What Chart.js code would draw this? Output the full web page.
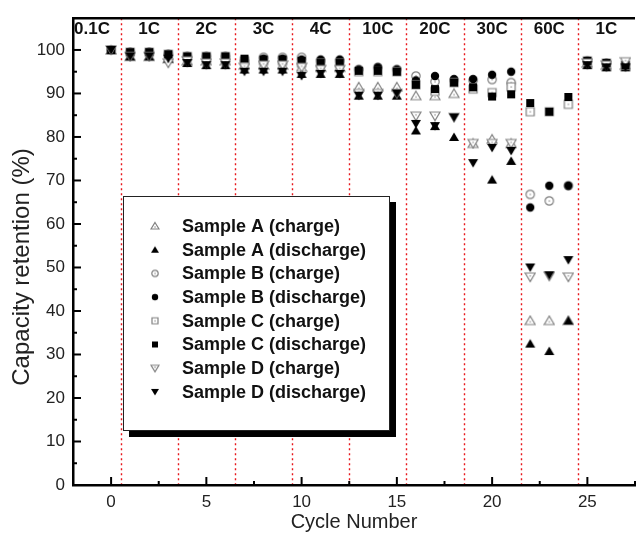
<!DOCTYPE html>
<html>
<head>
<meta charset="utf-8">
<script src="https://cdn.jsdelivr.net/npm/chart.js@4.4.1/dist/chart.umd.min.js"></script>
<style>
  html, body { margin: 0; padding: 0; background: #fff; }
</style>
</head>
<body>
<canvas id="capacityChart" width="641" height="534"></canvas>
<script>
// ---- data ----
const cycles = [0, 1, 2, 3, 4, 5, 6, 7, 8, 9, 10, 11, 12, 13, 14, 15, 16, 17, 18, 19, 20, 21, 22, 23, 24, 25, 26, 27];

const sampleACharge    = [100, 98.5, 98.5, 98, 97.5, 97.5, 97.5, 96.5, 96.5, 96.5, 96, 96, 96, 91.5, 91.5, 91.5, 89.5, 89.5, 90, 78.5, 79.5, 78.5, 37.8, 37.8, 37.8, 97, 96.5, 96.5];
const sampleADischarge = [100, 98.5, 98.5, 98, 97, 96.5, 96.5, 95.5, 95.5, 95.5, 94.5, 94.5, 94.5, 89.5, 89.5, 89.5, 81.5, 82.5, 80, null, 70.2, 74.5, 32.5, 30.8, 37.8, 96.5, 96, 96];
const sampleBCharge    = [100, 99.5, 99.5, 99, 98.5, 98.5, 98.5, 97.5, 98.3, 98.3, 98.3, 97.5, 97.5, 95.5, 96, 95.5, 94, 92.7, 93, 93, 93.2, 92.5, 66.8, 65.3, 68.8, 97.5, 97, 96.5];
const sampleBDischarge = [100, 99.5, 99.5, 99, 98.5, 98.5, 98.5, 97.5, 98, 98, 97.8, 97.8, 97.8, 95.5, 96, 95.5, 93, 94, 93.3, 93.3, 94.3, 95, 63.8, 68.8, 68.8, 97.5, 97, 96.5];
const sampleCCharge    = [100, 99.5, 99.5, 99, 98.5, 98.5, 98.5, 97.5, 97.5, 97.5, 97, 97, 97, 95, 95, 95, 92, 90.5, 92.5, 91, 90.2, 91.5, 85.8, 85.8, 87.5, 97.5, 97, 96.5];
const sampleCDischarge = [100, 99.5, 99.5, 99, 98.5, 98.5, 98.5, 98, 97.8, 97.8, 97.5, 97, 97, 95.2, 95.2, 95, 92, 91, 92.5, 91.4, 89.3, 89.8, 87.8, 85.8, 89.2, 97.5, 97, 96.5];
const sampleDCharge    = [100, 98.5, 98.5, 97, 97.5, 97, 97, 96, 96.5, 96.5, 96, 95.5, 95.5, 90, 90, 90, 84.8, 84.8, 84.5, 78.5, 78.5, 78.5, 47.8, 48, 47.8, 97, 96.5, 97.3];
const sampleDDischarge = [100, 98.5, 98.5, 98, 97, 96.5, 96.5, 95, 95, 95, 94, 94.5, 94.5, 89.5, 89.5, 90, 83, 82.5, 84.5, 74, 77.5, 76.8, 50, 48.2, 51.7, 96.5, 96, 96];

const seriesNames = [
  "Sample A (charge)", "Sample A (discharge)",
  "Sample B (charge)", "Sample B (discharge)",
  "Sample C (charge)", "Sample C (discharge)",
  "Sample D (charge)", "Sample D (discharge)"
];
const seriesValues = [
  sampleACharge, sampleADischarge, sampleBCharge, sampleBDischarge,
  sampleCCharge, sampleCDischarge, sampleDCharge, sampleDDischarge
];

const rateLabels = ["0.1C", "1C", "2C", "3C", "4C", "10C", "20C", "30C", "60C", "1C"];
const rateCenters = [-0.75, 2, 5, 8, 11, 14, 17, 20, 23, 26];
const rateBoundaries = [0.5, 3.5, 6.5, 9.5, 12.5, 15.5, 18.5, 21.5, 24.5];

const xTicks = [0, 5, 10, 15, 20, 25];
const yTicks = [0, 10, 20, 30, 40, 50, 60, 70, 80, 90, 100];

// ---- marker images ----
function makeMarker(shape, filled, size) {
  const c = document.createElement("canvas");
  c.width = size + 2;
  c.height = size + 2;
  const g = c.getContext("2d");
  const m = 1, s = size;
  g.beginPath();
  if (shape === "up") {
    g.moveTo(m + s / 2, m + 0.5);
    g.lineTo(m + s, m + s - 1);
    g.lineTo(m, m + s - 1);
    g.closePath();
  } else if (shape === "down") {
    g.moveTo(m, m + 1);
    g.lineTo(m + s, m + 1);
    g.lineTo(m + s / 2, m + s - 0.5);
    g.closePath();
  } else if (shape === "circle") {
    g.arc(m + s / 2, m + s / 2, s / 2 - 0.8, 0, Math.PI * 2);
  } else {
    g.rect(m + 1, m + 1, s - 2, s - 2);
  }
  if (filled) {
    g.fillStyle = "#000";
    g.fill();
  } else {
    g.fillStyle = "#fff";
    g.fill();
    g.strokeStyle = "#808080";
    g.lineWidth = 1.2;
    g.stroke();
    g.fillStyle = "#909090";
    const cy = shape === "up" ? m + s * 0.62 : shape === "down" ? m + s * 0.38 : m + s / 2;
    g.fillRect(m + s / 2 - 0.6, cy - 0.6, 1.3, 1.3);
  }
  return c;
}

const shapes = ["up", "up", "circle", "circle", "square", "square", "down", "down"];
const filledFlags = [false, true, false, true, false, true, false, true];
const plotMarkers = shapes.map((sh, i) => makeMarker(sh, filledFlags[i], 10));

Chart.defaults.font.family = "'Liberation Sans', Arial, sans-serif";

// ---- plugins ----
const backgroundDecor = {
  id: "backgroundDecor",
  beforeDraw(chart) {
    const { ctx, chartArea, scales } = chart;
    ctx.save();
    // rate boundaries
    ctx.strokeStyle = "#e8161b";
    ctx.lineWidth = 1.4;
    ctx.setLineDash([2, 3]);
    rateBoundaries.forEach(b => {
      const px = Math.round(scales.x.getPixelForValue(b)) + 0.5;
      ctx.beginPath();
      ctx.moveTo(px, chartArea.top);
      ctx.lineTo(px, chartArea.bottom);
      ctx.stroke();
    });
    ctx.setLineDash([]);
    // rate labels
    ctx.fillStyle = "#111";
    ctx.font = "bold 17px 'Liberation Sans', Arial, sans-serif";
    ctx.textBaseline = "middle";
    rateLabels.forEach((t, i) => {
      const px = scales.x.getPixelForValue(rateCenters[i]);
      ctx.textAlign = i === 0 ? "left" : "center";
      ctx.fillText(t, i === 0 ? chartArea.left + 1 : px, chartArea.top + 11);
    });
    ctx.restore();
  },
  afterDraw(chart) {
    const { ctx, chartArea, scales } = chart;
    const { left, top, right, bottom } = chartArea;
    ctx.save();
    ctx.strokeStyle = "#000";
    ctx.lineWidth = 2;
    // inward ticks
    yTicks.forEach(v => {
      const py = scales.y.getPixelForValue(v);
      ctx.beginPath(); ctx.moveTo(left, py); ctx.lineTo(left + 8, py); ctx.stroke();
      const pm = scales.y.getPixelForValue(v + 5);
      if (v + 5 < 101) { ctx.beginPath(); ctx.moveTo(left, pm); ctx.lineTo(left + 4, pm); ctx.stroke(); }
    });
    xTicks.forEach(v => {
      const px = scales.x.getPixelForValue(v);
      ctx.beginPath(); ctx.moveTo(px, bottom); ctx.lineTo(px, bottom - 8); ctx.stroke();
      const pm = scales.x.getPixelForValue(v + 2.5);
      ctx.beginPath(); ctx.moveTo(pm, bottom); ctx.lineTo(pm, bottom - 4); ctx.stroke();
    });
    // top frame line
    ctx.lineWidth = 2.5;
    ctx.beginPath(); ctx.moveTo(left - 1, top); ctx.lineTo(right, top); ctx.stroke();

    // y axis title (larger than the x title in the original figure)
    ctx.save();
    ctx.translate(22, 267);
    ctx.rotate(-Math.PI / 2);
    ctx.fillStyle = "#222";
    ctx.font = "24px 'Liberation Sans', Arial, sans-serif";
    ctx.textAlign = "center";
    ctx.textBaseline = "middle";
    ctx.fillText("Capacity retention (%)", 0, 0);
    ctx.restore();

    // legend box with shadow
    const box = { x: 123, y: 196, w: 267, h: 235, shadow: 6 };
    ctx.fillStyle = "#000";
    ctx.fillRect(box.x + box.shadow, box.y + box.shadow, box.w, box.h);
    ctx.fillStyle = "#fff";
    ctx.fillRect(box.x, box.y, box.w, box.h);
    ctx.strokeStyle = "#222";
    ctx.lineWidth = 1;
    ctx.strokeRect(box.x + 0.5, box.y + 0.5, box.w - 1, box.h - 1);
    ctx.font = "bold 18px 'Liberation Sans', Arial, sans-serif";
    ctx.textAlign = "left";
    ctx.textBaseline = "middle";
    chart.data.datasets.forEach((ds, i) => {
      const ry = 226 + i * 23.7;
      const img = makeMarker(shapes[i], filledFlags[i], 8);
      ctx.drawImage(img, 155 - img.width / 2, ry - img.height / 2);
      ctx.fillStyle = "#111";
      ctx.fillText(ds.label, 182, ry + 1);
    });
    ctx.restore();
  }
};

// ---- chart ----
const ctx = document.getElementById("capacityChart").getContext("2d");
new Chart(ctx, {
  type: "scatter",
  data: {
    datasets: seriesNames.map((name, i) => ({
      label: name,
      data: cycles.map((c, j) => ({ x: c, y: seriesValues[i][j] })),
      pointStyle: plotMarkers[i],
      pointRadius: 5,
      order: seriesNames.length - i
    }))
  },
  options: {
    responsive: false,
    animation: false,
    layout: { padding: { top: 13, right: 0, left: 0, bottom: 0 } },
    plugins: {
      legend: { display: false },
      tooltip: { enabled: false }
    },
    scales: {
      x: {
        type: "linear",
        min: -2,
        max: 27.5,
        afterBuildTicks: s => { s.ticks = xTicks.map(v => ({ value: v })); },
        afterFit: s => { s.height = 49; },
        grid: { display: false, drawTicks: false },
        border: { display: true, color: "#000", width: 2.5 },
        ticks: { color: "#222", font: { size: 17 }, padding: 7, maxRotation: 0 },
        title: { display: true, text: "Cycle Number", color: "#222", font: { size: 20 }, padding: { top: 0, bottom: 0 } }
      },
      y: {
        min: 0,
        max: 107.3,
        afterBuildTicks: s => { s.ticks = yTicks.map(v => ({ value: v })); },
        afterFit: s => { s.width = 73; },
        grid: { display: false, drawTicks: false },
        border: { display: true, color: "#000", width: 2.5 },
        ticks: { color: "#222", font: { size: 17 }, padding: 8 }
      }
    }
  },
  plugins: [backgroundDecor]
});
</script>
</body>
</html>
